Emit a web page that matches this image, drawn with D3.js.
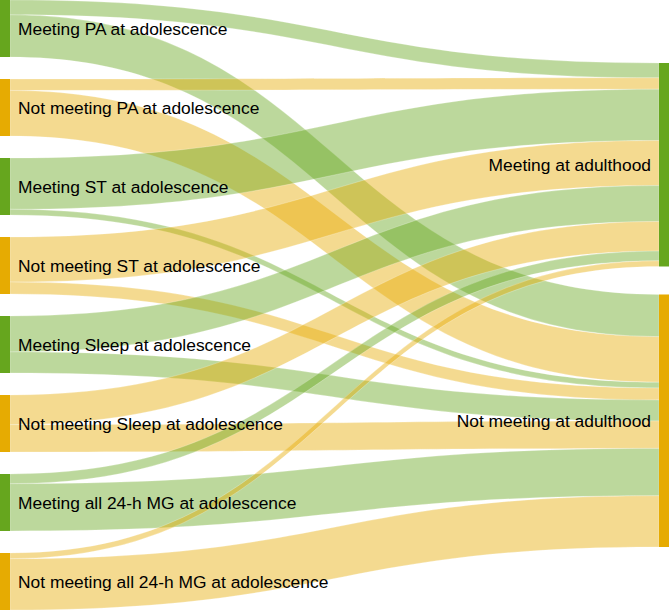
<!DOCTYPE html>
<html>
<head>
<meta charset="utf-8">
<script src="https://cdn.jsdelivr.net/npm/d3@7"></script>
<style>
  body { margin: 0; background: #fff; }
  svg text { font-family: "Liberation Sans", Arial, Helvetica, sans-serif; font-size: 17.4px; fill: #000; }
</style>
</head>
<body>
<script>
// source nodes (adolescence), top to bottom
var sourceNames = [
  "Meeting PA at adolescence",
  "Not meeting PA at adolescence",
  "Meeting ST at adolescence",
  "Not meeting ST at adolescence",
  "Meeting Sleep at adolescence",
  "Not meeting Sleep at adolescence",
  "Meeting all 24-h MG at adolescence",
  "Not meeting all 24-h MG at adolescence"
];
var sourceGroup = ["meet", "not", "meet", "not", "meet", "not", "meet", "not"];

// target nodes (adulthood)
var targetNames = ["Meeting at adulthood", "Not meeting at adulthood"];
var targetGroup = ["meet", "not"];

// % of each adolescent group meeting / not meeting at adulthood
var toMeeting    = [26, 20, 90, 79, 63, 52, 17, 10];
var toNotMeeting = [74, 80, 10, 21, 37, 48, 83, 90];

var W = 669, H = 610;
var NODE_W = 10;
var LEFT_PAD = 22, RIGHT_PAD = 28;

var nodeColor = { meet: "#66a61e", not: "#e6ab02" };
var LINK_OPACITY = 0.44;

var svg = d3.select("body").append("svg")
    .attr("width", W)
    .attr("height", H);

// build links
var links = [];
sourceNames.forEach(function(s, i) {
  links.push({ source: i, target: 0, value: toMeeting[i] });
  links.push({ source: i, target: 1, value: toNotMeeting[i] });
});

// node values
var sourceValues = sourceNames.map(function(s, i) { return toMeeting[i] + toNotMeeting[i]; });
var targetValues = [d3.sum(toMeeting), d3.sum(toNotMeeting)];

// value -> pixel scale, fitted so the left column fills the height
var ky = (H - (sourceNames.length - 1) * LEFT_PAD) / d3.sum(sourceValues);
var y = d3.scaleLinear().domain([0, 1]).range([0, ky]);

// left column: stacked with padding
var sources = [];
var yy = 0;
sourceNames.forEach(function(name, i) {
  var h = y(sourceValues[i]);
  sources.push({ name: name, group: sourceGroup[i], y0: yy, y1: yy + h });
  yy += h + LEFT_PAD;
});

// right column: stacked and centred
var rightTotal = y(d3.sum(targetValues)) + (targetNames.length - 1) * RIGHT_PAD;
var targets = [];
yy = (H - rightTotal) / 2;
targetNames.forEach(function(name, i) {
  var h = y(targetValues[i]);
  targets.push({ name: name, group: targetGroup[i], y0: yy, y1: yy + h });
  yy += h + RIGHT_PAD;
});

// link offsets at each end
var srcOffset = sources.map(function(d) { return d.y0; });
var tgtOffset = targets.map(function(d) { return d.y0; });
// at the source, links are ordered by target; at the target, by source
links.forEach(function(l) {
  l.w = y(l.value);
  l.sy = srcOffset[l.source];
  srcOffset[l.source] += l.w;
});
d3.range(targets.length).forEach(function(t) {
  links.filter(function(l) { return l.target === t; })
    .sort(function(a, b) { return a.source - b.source; })
    .forEach(function(l) {
      l.ty = tgtOffset[t];
      tgtOffset[t] += l.w;
    });
});

var xa = NODE_W, xb = W - NODE_W, xm = (xa + xb) / 2;

function ribbon(l) {
  var p = d3.path();
  var s0 = l.sy, s1 = l.sy + l.w, t0 = l.ty, t1 = l.ty + l.w;
  p.moveTo(xa, s0);
  p.bezierCurveTo(xm, s0, xm, t0, xb, t0);
  p.lineTo(xb, t1);
  p.bezierCurveTo(xm, t1, xm, s1, xa, s1);
  p.closePath();
  return p.toString();
}

// links
svg.append("g")
  .selectAll("path")
  .data(links)
  .enter()
  .append("path")
  .attr("d", ribbon)
  .attr("fill", function(l) { return nodeColor[sourceGroup[l.source]]; })
  .attr("fill-opacity", LINK_OPACITY)
  .attr("stroke", "#fff")
  .attr("stroke-opacity", 0.6)
  .attr("stroke-width", 0.4);

// nodes
svg.append("g")
  .selectAll("rect")
  .data(sources)
  .enter()
  .append("rect")
  .attr("x", 0)
  .attr("y", function(d) { return d.y0; })
  .attr("width", NODE_W)
  .attr("height", function(d) { return d.y1 - d.y0; })
  .attr("fill", function(d) { return nodeColor[d.group]; });

svg.append("g")
  .selectAll("rect")
  .data(targets)
  .enter()
  .append("rect")
  .attr("x", W - NODE_W)
  .attr("y", function(d) { return d.y0; })
  .attr("width", NODE_W)
  .attr("height", function(d) { return d.y1 - d.y0; })
  .attr("fill", function(d) { return nodeColor[d.group]; });

// labels
svg.append("g")
  .selectAll("text")
  .data(sources)
  .enter()
  .append("text")
  .attr("x", NODE_W + 8)
  .attr("y", function(d) { return (d.y0 + d.y1) / 2; })
  .attr("dy", "0.35em")
  .text(function(d) { return d.name; });

svg.append("g")
  .selectAll("text")
  .data(targets)
  .enter()
  .append("text")
  .attr("x", W - NODE_W - 8)
  .attr("y", function(d) { return (d.y0 + d.y1) / 2; })
  .attr("dy", "0.35em")
  .attr("text-anchor", "end")
  .text(function(d) { return d.name; });
</script>
</body>
</html>
